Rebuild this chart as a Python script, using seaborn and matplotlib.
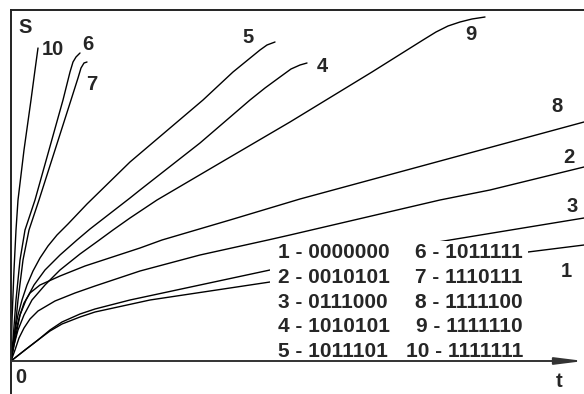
import matplotlib
matplotlib.use('Agg')
import matplotlib.pyplot as plt
import seaborn as sns
import pandas as pd
from matplotlib.patches import Rectangle

# curves S(t) (arbitrary units, origin at 0,0)
t1 = [0, 14, 27, 39, 51, 69, 84, 139, 259, 517, 573]
s1 = [0, 11, 21, 30, 37, 44, 49, 61, 79, 109, 116]

t2 = [0, 4, 8, 13, 19, 27, 44, 64, 84, 129, 189, 257, 279, 429, 479, 573]
s2 = [0, 11, 23, 33, 42, 50, 60, 68, 75, 90, 106, 121, 126, 161, 171, 194]

t3 = [0, 14, 27, 39, 51, 69, 84, 119, 259, 439, 573]
s3 = [0, 11, 21, 31, 39, 47, 52, 61, 91, 121, 143]

t4 = [0, 2, 5, 9, 15, 23, 34, 49, 66, 79, 119, 129, 189, 239, 254, 269, 280, 289, 296]
s4 = [0, 16, 31, 46, 61, 76, 91, 106, 121, 132, 163, 171, 218, 261, 273, 284, 292, 296, 298]

t5 = [0, 2, 4, 7, 11, 16, 22, 29, 37, 46, 57, 76, 119, 192, 222, 249, 256, 264]
s5 = [0, 16, 31, 46, 61, 76, 90, 103, 115, 126, 137, 157, 199, 261, 289, 311, 316, 319]

t6 = [0, 2, 5, 9, 14, 24, 38, 52, 59, 62, 65, 69]
s6 = [0, 21, 61, 101, 131, 161, 211, 261, 289, 299, 304, 308]

t7 = [0, 3, 7, 12, 18, 28, 44, 60, 67, 70, 73, 76]
s7 = [0, 21, 61, 101, 131, 161, 211, 261, 283, 293, 298, 299]

t8 = [0, 3, 6, 9, 13, 19, 29, 49, 74, 129, 151, 219, 289, 573]
s8 = [0, 16, 31, 46, 58, 68, 76, 85, 95, 113, 121, 141, 162, 239]

t9 = [0, 3, 7, 13, 21, 34, 49, 69, 87, 102, 119, 146, 209, 279, 361, 412, 425, 437, 449, 461, 474]
s9 = [0, 16, 31, 46, 61, 76, 91, 107, 120, 131, 143, 161, 198, 239, 289, 321, 329, 335, 339, 342, 344]

t10 = [0, 1, 3, 5, 7, 13, 20, 24, 27]
s10 = [0, 41, 91, 131, 161, 211, 261, 291, 313]

codes = ['0000000', '0010101', '0111000', '1010101', '1011101',
         '1011111', '1110111', '1111100', '1111110', '1111111']

curves = {1: (t1, s1), 2: (t2, s2), 3: (t3, s3), 4: (t4, s4), 5: (t5, s5),
          6: (t6, s6), 7: (t7, s7), 8: (t8, s8), 9: (t9, s9), 10: (t10, s10)}

rows = []
for k, (tt, ss) in curves.items():
    for a, b in zip(tt, ss):
        rows.append({'curve': k, 't': a, 'S': b})
df = pd.DataFrame(rows)

sns.set_style('white')
plt.rcParams['font.family'] = ['Liberation Sans', 'DejaVu Sans']
plt.rcParams['font.weight'] = 'bold'

fig = plt.figure(figsize=(5.84, 3.94), dpi=100)
ax = fig.add_axes([11 / 584, 0, 573 / 584, 384 / 394])

sns.lineplot(data=df, x='t', y='S', units='curve', estimator=None, sort=False,
             color='black', lw=1.0, ax=ax, zorder=2)

ax.set_xlim(0, 573)
ax.set_ylim(-33, 351)
ax.set_xlabel('')
ax.set_ylabel('')
ax.set_xticks([])
ax.set_yticks([])
for side in ['right', 'bottom']:
    ax.spines[side].set_visible(False)
for side in ['left', 'top']:
    ax.spines[side].set_color('#222222')
    ax.spines[side].set_linewidth(1.4)

# t axis with arrow
ax.annotate('', xy=(573, 0), xytext=(0, 0),
            arrowprops=dict(arrowstyle='-|>,head_length=1.2,head_width=0.15',
                            color='#333333', lw=1.4, shrinkA=0, shrinkB=0,
                            mutation_scale=14), zorder=5)

# white box behind the code table
ax.add_patch(Rectangle((259, 2), 258, 118, facecolor='white',
                       edgecolor='none', zorder=3))

fs = 15
base = [103, 78.25, 53.5, 28.75, 4]
for i in range(5):
    ax.text(267, base[i], f'{i + 1} - {codes[i]}', ha='left', va='baseline',
            fontsize=fs, fontweight='bold', zorder=4)
    ax.text(512, base[i], f'{i + 6} - {codes[i + 5]}', ha='right', va='baseline',
            fontsize=fs, fontweight='bold', zorder=4)

labels = [('S', 14, 328), ('10', 42, 306), ('6', 77, 311), ('7', 81, 271),
          ('5', 237, 318), ('4', 311, 289), ('9', 460, 321), ('8', 546, 249),
          ('2', 558, 198), ('3', 561, 149), ('1', 555, 84), ('0', 9.5, -22),
          ('t', 548, -26)]
for txt, x, y in labels:
    ax.text(x, y, txt, ha='center', va='baseline', fontsize=14.5,
            fontweight='bold', zorder=4)

fig.savefig('out.png', dpi=100)
